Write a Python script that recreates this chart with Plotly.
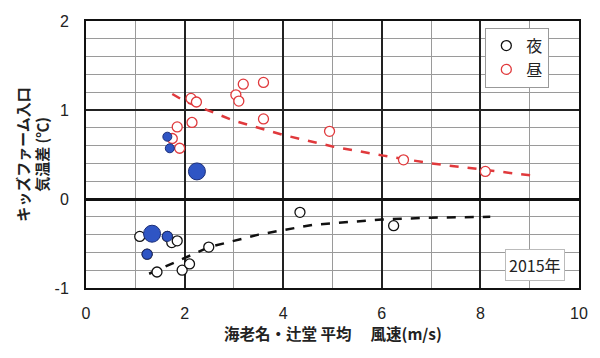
import plotly.graph_objects as go

# 昼 (day) open red circles
day_x = [2.13, 2.24, 3.19, 3.60, 3.04, 3.10, 1.85, 2.15, 3.60, 1.75, 1.90, 4.94, 6.44, 8.10, 2.25]
day_y = [1.13, 1.09, 1.29, 1.31, 1.17, 1.10, 0.81, 0.86, 0.90, 0.68, 0.57, 0.76, 0.44, 0.31, 0.31]

# 夜 (night) open black circles
night_x = [1.09, 1.34, 1.65, 1.74, 1.85, 1.24, 1.44, 1.95, 2.10, 2.49, 4.34, 6.24]
night_y = [-0.42, -0.39, -0.42, -0.49, -0.47, -0.62, -0.82, -0.80, -0.73, -0.54, -0.15, -0.30]

# highlighted (blue filled) points
blue_x = [1.65, 1.70, 2.25, 1.34, 1.65, 1.24]
blue_y = [0.70, 0.57, 0.31, -0.39, -0.42, -0.62]
blue_size = [9, 9, 17, 17, 10, 10]

# trend lines
day_trend_x = [1.75, 2.0, 3.0, 4.0, 5.0, 6.0, 7.0, 8.0, 9.1]
day_trend_y = [1.18, 1.10, 0.88, 0.72, 0.59, 0.49, 0.40, 0.33, 0.26]
night_trend_x = [1.28, 2.0, 2.5, 3.5, 4.6, 6.0, 7.0, 8.2]
night_trend_y = [-0.84, -0.66, -0.54, -0.40, -0.29, -0.23, -0.21, -0.20]

x_ticks = [0, 2, 4, 6, 8, 10]
y_ticks = [-1, 0, 1, 2]

RED = "#e0393c"
BLUE = "#2f55c4"
FONT = "Noto Sans CJK JP"

fig = go.Figure()
fig.add_trace(go.Scatter(x=day_trend_x, y=day_trend_y, mode="lines",
                         line=dict(color=RED, width=2.5, dash="dash"),
                         showlegend=False, hoverinfo="skip"))
fig.add_trace(go.Scatter(x=night_trend_x, y=night_trend_y, mode="lines",
                         line=dict(color="#111111", width=2.5, dash="dash"),
                         showlegend=False, hoverinfo="skip"))
fig.add_trace(go.Scatter(x=night_x, y=night_y, mode="markers", name="夜",
                         marker=dict(symbol="circle", size=10, color="white", opacity=1,
                                     line=dict(color="#111111", width=1.3))))
fig.add_trace(go.Scatter(x=day_x, y=day_y, mode="markers", name="昼",
                         marker=dict(symbol="circle", size=10, color="white", opacity=1,
                                     line=dict(color=RED, width=1.3))))
fig.add_trace(go.Scatter(x=blue_x, y=blue_y, mode="markers", showlegend=False,
                         marker=dict(symbol="circle", size=blue_size, color=BLUE, opacity=1,
                                     line=dict(color="#1c2f7a", width=1))))

fig.update_layout(
    width=600, height=358,
    margin=dict(l=86, r=19, t=21, b=70),
    paper_bgcolor="white", plot_bgcolor="white",
    font=dict(family=FONT, color="#222222"),
    legend=dict(x=0.81, y=0.975, xanchor="left", yanchor="top",
                bgcolor="white", bordercolor="#999999", borderwidth=1,
                font=dict(size=16, family=FONT, color="#222222"),
                itemwidth=30),
    annotations=[
        dict(text="<b>キッズファーム入口<br>気温差 (℃)</b>", textangle=-90,
             xref="paper", yref="paper", x=(32 - 86) / 495, y=0.5,
             xanchor="center", yanchor="middle", showarrow=False,
             font=dict(size=15, family=FONT, color="#222222")),
        dict(text="<b>海老名・辻堂 平均　 風速(m/s)</b>",
             xref="paper", yref="paper", x=0.5, y=-0.17,
             xanchor="center", yanchor="middle", showarrow=False,
             font=dict(size=15.5, family=FONT, color="#222222")),
        dict(text="2015年", xref="paper", yref="paper",
             x=(537 - 86) / 495, y=(288 - 265) / 267,
             xanchor="center", yanchor="middle", showarrow=False,
             bgcolor="white", bordercolor="#bbbbbb", borderwidth=1, borderpad=3,
             font=dict(size=16, family=FONT, color="#222222")),
    ],
)

fig.update_xaxes(range=[0, 10], tickvals=x_ticks, ticktext=[str(v) for v in x_ticks],
                 showgrid=True, gridcolor="#222222", gridwidth=1.5,
                 minor=dict(dtick=1, showgrid=True, gridcolor="#9a9a9a", gridwidth=1),
                 showline=True, linecolor="#111111", linewidth=2, mirror=True,
                 zeroline=False, ticks="", ticklabelstandoff=10,
                 tickfont=dict(size=16, family="Liberation Sans", color="#222222"))
fig.update_yaxes(range=[-1, 2], tickvals=y_ticks, ticktext=[str(v) for v in y_ticks],
                 showgrid=True, gridcolor="#222222", gridwidth=1.5,
                 minor=dict(dtick=0.2, tick0=0, showgrid=True, gridcolor="#9a9a9a", gridwidth=1),
                 showline=True, linecolor="#111111", linewidth=2, mirror=True,
                 zeroline=True, zerolinecolor="#111111", zerolinewidth=3,
                 ticks="", ticklabelstandoff=12,
                 tickfont=dict(size=16, family="Liberation Sans", color="#222222"))

fig.write_html("out.html")
